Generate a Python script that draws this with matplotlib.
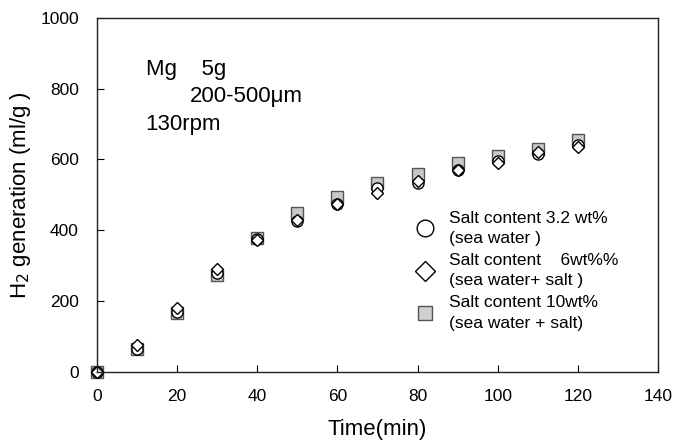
import matplotlib
matplotlib.use("Agg")
import matplotlib.pyplot as plt

plt.rcParams["font.family"] = ["Liberation Sans", "DejaVu Sans"]

time_min = [0, 10, 20, 30, 40, 50, 60, 70, 80, 90, 100, 110, 120]
h2_sea = [0, 65, 170, 280, 375, 425, 475, 520, 535, 570, 595, 615, 640]
h2_6wt = [0, 75, 180, 290, 372, 430, 475, 505, 540, 570, 590, 620, 635]
h2_10wt = [0, 65, 165, 275, 378, 450, 495, 535, 560, 590, 610, 630, 655]

labels = [
    "Salt content 3.2 wt%\n(sea water )",
    "Salt content    6wt%%\n(sea water+ salt )",
    "Salt content 10wt%\n(sea water + salt)",
]

fig = plt.figure(figsize=(6.82, 4.47), dpi=100)
ax = fig.add_axes([0.142, 0.168, 0.823, 0.792])

ax.plot(time_min, h2_10wt, "s", ms=8, mfc="#c8c8c8", mec="#555555", mew=1.0, ls="none", clip_on=False)
ax.plot(time_min, h2_sea, "o", ms=8, mfc="white", mec="black", mew=1.0, ls="none", clip_on=False)
ax.plot(time_min, h2_6wt, "D", ms=6, mfc="white", mec="black", mew=1.0, ls="none", clip_on=False)

# legend handles drawn larger than data markers
h1 = ax.plot([], [], "o", ms=12, mfc="white", mec="black", mew=1.0, ls="none")[0]
h2 = ax.plot([], [], "D", ms=10, mfc="white", mec="black", mew=1.0, ls="none")[0]
h3 = ax.plot([], [], "s", ms=10, mfc="#d0d0d0", mec="#555555", mew=1.0, ls="none")[0]
leg = ax.legend([h1, h2, h3], labels, loc="upper left", bbox_to_anchor=(0.550, 0.48),
                frameon=False, fontsize=12.5, labelspacing=0.4, handletextpad=0.8,
                borderpad=0, handlelength=1.2)
for t in leg.get_texts():
    t.set_linespacing(1.45)

ax.set_xlim(0, 140)
ax.set_ylim(0, 1000)
ax.set_xticks(range(0, 141, 20))
ax.set_yticks(range(0, 1001, 200))
ax.tick_params(direction="in", labelsize=12.5, length=5, top=False, right=False)
ax.tick_params(axis="x", pad=12)
ax.tick_params(axis="y", pad=13)
for s in ax.spines.values():
    s.set_linewidth(1.0)
    s.set_color("#222222")

ax.set_xlabel("Time(min)", fontsize=16, labelpad=11)
ax.set_ylabel("H$_2$ generation (ml/g )", fontsize=16, labelpad=5)

ax.text(0.087, 0.838, "Mg    5g", transform=ax.transAxes, fontsize=16)
ax.text(0.166, 0.761, "200-500\u03bcm", transform=ax.transAxes, fontsize=16)
ax.text(0.087, 0.683, "130rpm", transform=ax.transAxes, fontsize=16)

fig.savefig("out.png", dpi=100)
